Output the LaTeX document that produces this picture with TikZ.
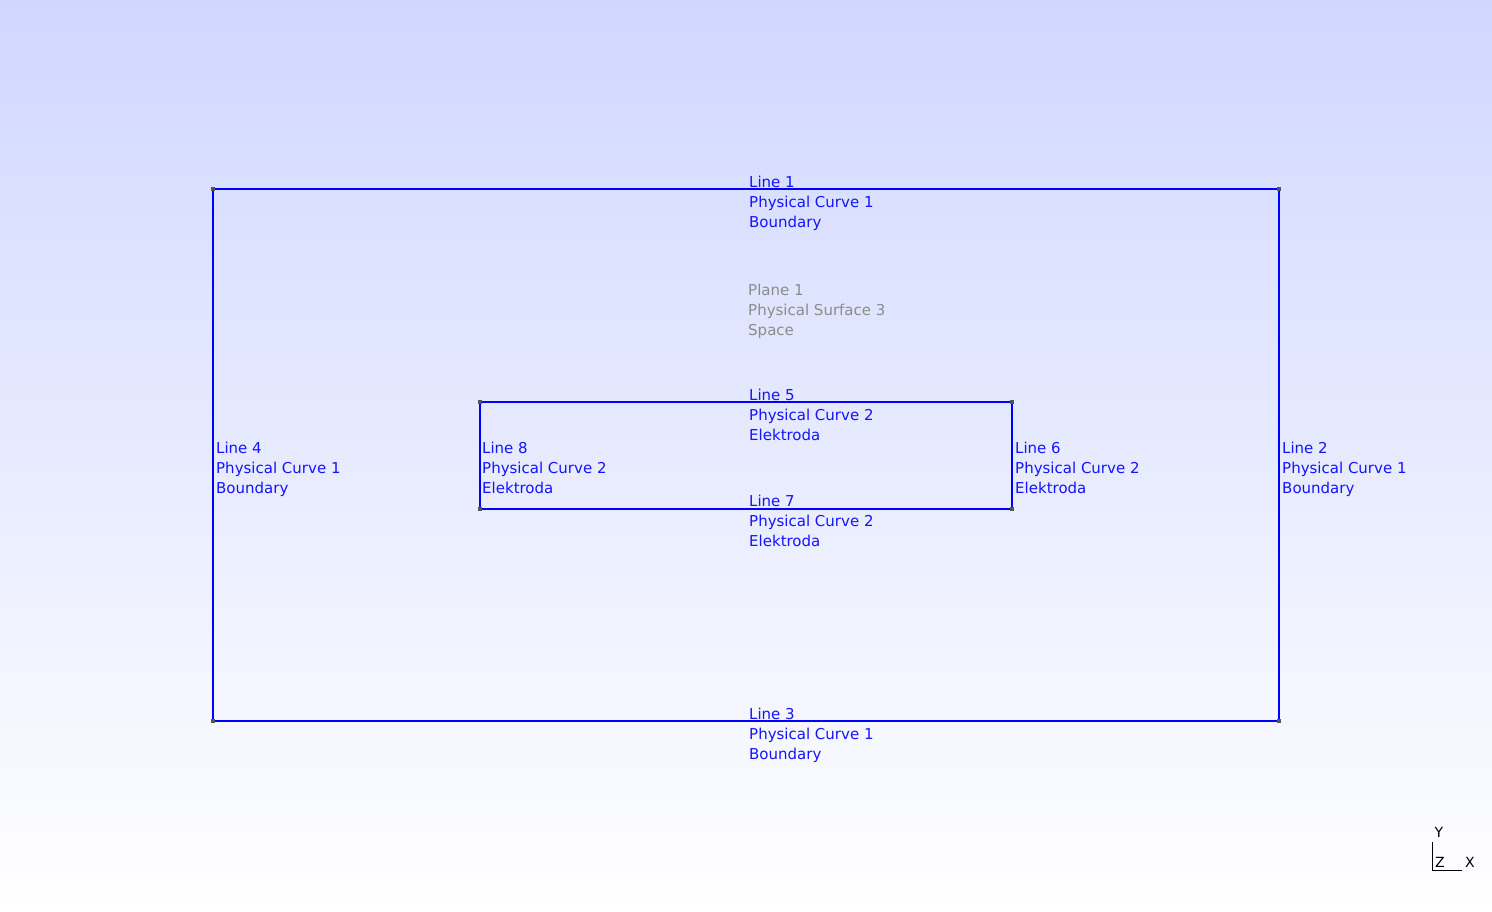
\documentclass[tikz,border=0pt]{standalone}
\usepackage{fontspec}
\setmainfont{DejaVu Sans}
\usepackage{tikz}
\usetikzlibrary{positioning}
\definecolor{gmshbg}{RGB}{208,215,255}
\definecolor{pointgrey}{RGB}{85,85,85}
\definecolor{labelblue}{RGB}{20,20,255}
\definecolor{surfgrey}{RGB}{140,140,140}

\begin{document}
\begin{tikzpicture}[
    x=1pt, y=-1pt,
    edge/.style={
        draw=blue, line width=1.9pt
    },
    pt/.style={
        rectangle, fill=pointgrey, inner sep=0pt, minimum size=4.5pt
    },
    tag/.style={
        anchor=base west, inner sep=0pt, align=left, text=labelblue,
        font=\fontsize{15pt}{20pt}\selectfont
    },
    surftag/.style={
        tag, text=surfgrey
    },
    axis/.style={
        draw=black, line width=0.6pt
    },
    axtag/.style={
        inner sep=0pt, font=\fontsize{14pt}{16pt}\selectfont
    }
]

% Background
\shade[top color=gmshbg, bottom color=white] (0,0) rectangle (1492,911);
\useasboundingbox (0,0) rectangle (1492,911);

% Points of the outer box
\coordinate (p1) at (213,189);
\coordinate (p2) at (1279,189);
\coordinate (p3) at (1279,721);
\coordinate (p4) at (213,721);

% Points of the electrode
\coordinate (p5) at (480,402);
\coordinate (p6) at (1012,402);
\coordinate (p7) at (1012,509);
\coordinate (p8) at (480,509);

% Draw lines
\draw[edge] (p1) -- (p2);
\draw[edge] (p2) -- (p3);
\draw[edge] (p3) -- (p4);
\draw[edge] (p4) -- (p1);
\draw[edge] (p5) -- (p6);
\draw[edge] (p6) -- (p7);
\draw[edge] (p7) -- (p8);
\draw[edge] (p8) -- (p5);

\foreach \p in {p1,p2,p3,p4,p5,p6,p7,p8}
    \node[pt] at (\p) {};

% Line labels (anchored on the last line)
\node[tag] (line1) at (749,227) {Line 1\\Physical Curve 1\\Boundary};
\node[tag] (line2) at (1282,493) {Line 2\\Physical Curve 1\\Boundary};
\node[tag] (line3) at (749,759) {Line 3\\Physical Curve 1\\Boundary};
\node[tag] (line4) at (216,493) {Line 4\\Physical Curve 1\\Boundary};
\node[tag] (line5) at (749,440) {Line 5\\Physical Curve 2\\Elektroda};
\node[tag] (line6) at (1015,493) {Line 6\\Physical Curve 2\\Elektroda};
\node[tag] (line7) at (749,546) {Line 7\\Physical Curve 2\\Elektroda};
\node[tag] (line8) at (482,493) {Line 8\\Physical Curve 2\\Elektroda};

% Surface label
\node[surftag] (plane1) at (748,335) {Plane 1\\Physical Surface 3\\Space};

% Small axes in the corner
\coordinate (orig) at (1432,870);
\coordinate (yend) at (1432,842);
\coordinate (xend) at (1462,870);
\draw[axis] (orig) -- (yend);
\draw[axis] (orig) -- (xend);
\node[axtag] (ylab) at (1439,832) {Y};
\node[axtag] (zlab) at (1440,862) {Z};
\node[axtag] (xlab) at (1470,862) {X};

\end{tikzpicture}
\end{document}
